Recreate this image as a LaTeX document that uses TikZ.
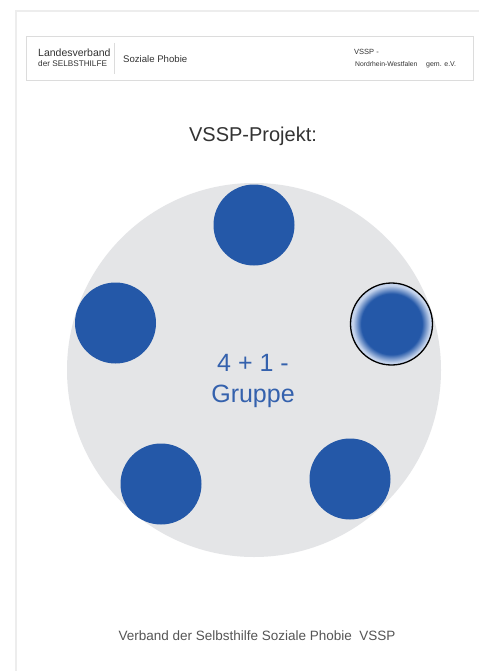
\documentclass[tikz,border=0pt]{standalone}
\usepackage{fontspec}
\setmainfont{Liberation Sans}
\usetikzlibrary{positioning, shadows}
\definecolor{Dark}{HTML}{333333}
\definecolor{Muted}{HTML}{555555}
\definecolor{Blue}{HTML}{2458A8}
\definecolor{TextBlue}{HTML}{3461AD}
\definecolor{Disc}{HTML}{E4E5E7}
\definecolor{Frame}{HTML}{DCDCDC}
\definecolor{Glow}{HTML}{C4D3EC}
\pgfdeclareradialshading{glowdisc}{\pgfpoint{0bp}{0bp}}{color(0bp)=(Blue); color(18.5bp)=(Blue); color(23.5bp)=(Glow); color(25bp)=(Glow); color(50bp)=(Glow)}
\tikzset{
    headbox/.style={rectangle, draw=Frame, fill=white, minimum width=447pt, minimum height=44pt, drop shadow={opacity=0.12, shadow xshift=1pt, shadow yshift=-1pt}},
    headtext/.style={anchor=west, inner sep=0pt, text=Dark},
    member/.style={circle, fill=Blue, minimum size=81pt, inner sep=0pt},
    chosen/.style={circle, shading=glowdisc, draw=black, line width=1.3pt, minimum size=82pt, inner sep=0pt},
}
\begin{document}
\begin{tikzpicture}[x=1pt, y=-1pt]
    \useasboundingbox[fill=white] (0, 0) rectangle (479, 671);
    % Seitenrand
    \draw[black!7, line width=1.2pt] (16, 671) -- (16, 11) -- (479, 11);

    % Kopfzeile
    \node[headbox] (kopf) at (249.5, 58) {};
    \node[headtext, font=\fontsize{10.5}{12}\selectfont] (lv) at (38, 53) {Landesverband};
    \node[headtext, font=\fontsize{8.2}{10}\selectfont] (shg) at (38, 64) {der SELBSTHILFE};
    \draw[Frame, line width=1pt] (114, 43) -- (114, 74);
    \node[headtext, font=\fontsize{9.6}{12}\selectfont] (thema) at (123, 59) {Soziale Phobie};
    \node[headtext, font=\fontsize{7.5}{9}\selectfont] (vssp) at (354, 52) {VSSP -};
    \node[headtext, font=\fontsize{6.8}{8}\selectfont] (nrw) at (355, 64) {Nordrhein-Westfalen};
    \node[headtext, font=\fontsize{7}{8}\selectfont] (ev) at (426, 64.5) {gem. e.V.};

    % Titel
    \node[font=\fontsize{20}{24}\selectfont, text=Dark] (titel) at (253, 136) {VSSP-Projekt:};

    % Gruppe
    \node[circle, fill=Disc, minimum size=374pt, inner sep=0pt] (gruppe) at (254, 370) {};
    \node[member] (m1) at (254, 225) {};
    \node[member] (m2) at (115.5, 323) {};
    \node[chosen] (m3) at (391.5, 324) {};
    \node[member] (m4) at (161, 484) {};
    \node[member] (m5) at (350, 479) {};
    \node[font=\fontsize{25}{31}\selectfont, text=TextBlue, align=center] (label) at (253, 381) {4 + 1 -\\Gruppe};

    % Fusszeile
    \node[font=\fontsize{13.5}{16}\selectfont, text=Muted] (fuss) at (257, 636) {Verband der Selbsthilfe Soziale Phobie\ \ VSSP};
\end{tikzpicture}
\end{document}
